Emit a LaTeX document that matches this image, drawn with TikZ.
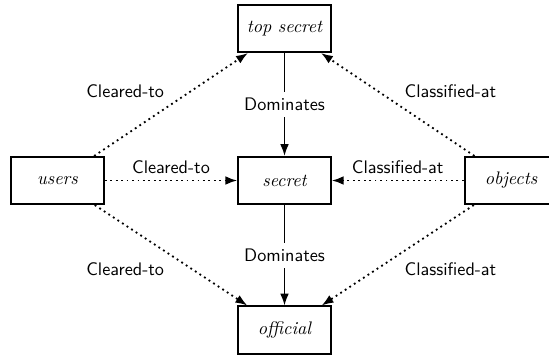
\documentclass[tikz,border=0pt]{standalone}
\usetikzlibrary{arrows.meta}
\begin{document}
\begin{tikzpicture}[x=0.55pt,y=-0.55pt,
  level/.style={draw,line width=1pt,minimum width=51pt,minimum height=26pt,inner sep=2pt,font=\itshape},
  entity/.style={level},
  dominates/.style={line width=0.9pt,-{Latex[length=6.5pt,width=4.8pt]}},
  relation/.style={line width=1pt,dotted,-{Latex[length=6.5pt,width=4.8pt]}},
  lbl/.style={font=\sffamily}]
\useasboundingbox (0,0) rectangle (549,356);

% security levels
\node[level] (top) at (284.5,28.5) {top secret};
\node[level] (sec) at (284.5,180.5) {secret};
\node[level] (off) at (284.5,330) {official};

% subjects and objects
\node[entity] (users) at (57.5,180.5) {users};
\node[entity] (objects) at (511,180.5) {objects};

% ordering of the levels
\draw[dominates] (top) -- node[lbl,fill=white] {Dominates} (sec);
\draw[dominates] (sec) -- node[lbl,fill=white] {Dominates} (off);

% clearances
\draw[relation] (users) -- node[lbl,above left] {Cleared-to} (top);
\draw[relation] (users) -- node[lbl,above] {Cleared-to} (sec);
\draw[relation] (users) -- node[lbl,below left] {Cleared-to} (off);

% classifications
\draw[relation] (objects) -- node[lbl,above right] {Classified-at} (top);
\draw[relation] (objects) -- node[lbl,above] {Classified-at} (sec);
\draw[relation] (objects) -- node[lbl,below right] {Classified-at} (off);
\end{tikzpicture}
\end{document}
